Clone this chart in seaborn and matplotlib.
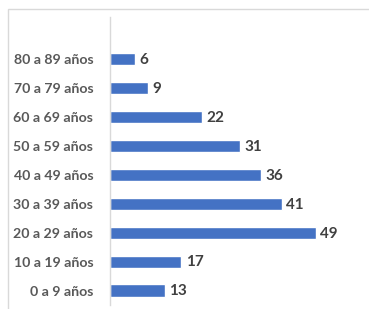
import matplotlib
matplotlib.use("Agg")
import matplotlib.pyplot as plt
import seaborn as sns
import pandas as pd
from matplotlib.patches import Rectangle

sns.set_style("white")
plt.rcParams["font.family"] = ["Lato", "DejaVu Sans"]

grupos = ["0 a 9 años", "10 a 19 años", "20 a 29 años", "30 a 39 años",
          "40 a 49 años", "50 a 59 años", "60 a 69 años", "70 a 79 años",
          "80 a 89 años"]
casos = [13, 17, 49, 41, 36, 31, 22, 9, 6]

df = pd.DataFrame({"grupo": grupos[::-1], "casos": casos[::-1]})

fig = plt.figure(figsize=(3.69, 3.09), dpi=100)
ax = fig.add_axes([110 / 369, 4 / 309, (362 - 110) / 369, 288 / 309])

sns.barplot(data=df, y="grupo", x="casos", color="#4472C4", saturation=1,
            width=0.42, ax=ax)

ax.set_xlim(0, 60)
ax.set_ylim(8.5, -1.45)
ax.set_xlabel("")
ax.set_ylabel("")
ax.set_xticks([])
ax.tick_params(axis="y", length=0, pad=12, labelsize=10.2, labelcolor="#595959")
for lbl in ax.get_yticklabels():
    lbl.set_fontweight("bold")

for i, v in enumerate(df["casos"]):
    ax.text(v + 1.0, i + 0.03, str(v), va="center", ha="left", fontsize=11,
            fontweight="bold", color="#404040")

for s in ["top", "right", "bottom"]:
    ax.spines[s].set_visible(False)
ax.spines["left"].set_color("#d9d9d9")
ax.spines["left"].set_linewidth(1)

# marco del gráfico
fig.patches.append(Rectangle((8 / 369, -0.1), 1.2, (300 / 309) + 0.1,
                             transform=fig.transFigure, fill=False,
                             edgecolor="#d9d9d9", linewidth=1))

fig.savefig("out.png", dpi=100)
